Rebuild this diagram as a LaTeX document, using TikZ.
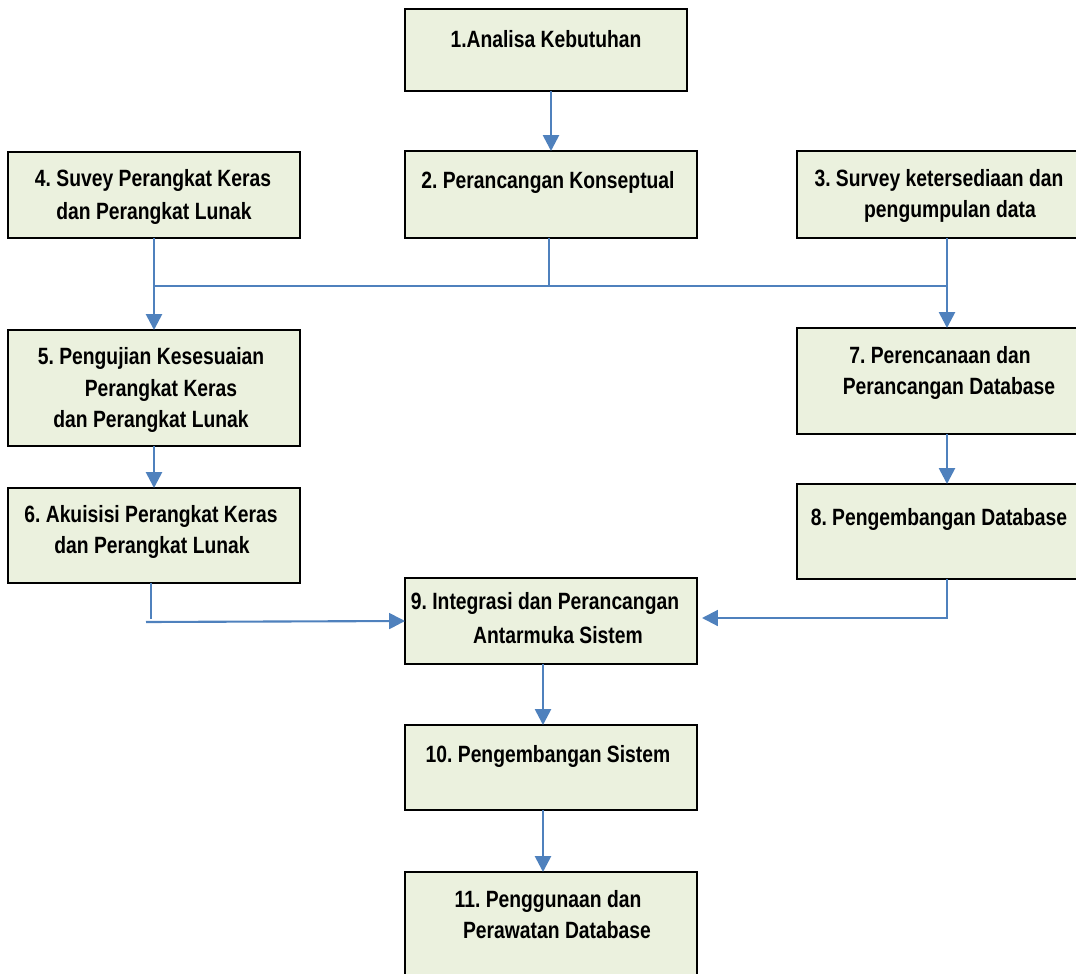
\documentclass[tikz,border=0pt]{standalone}
\usepackage{fontspec}
\setmainfont{Liberation Sans}[FakeStretch=0.82]
\usetikzlibrary{arrows.meta}
\definecolor{boxfill}{RGB}{235,241,222}
\definecolor{flow}{RGB}{79,129,189}
\frenchspacing
\begin{document}
\begin{tikzpicture}[x=0.02cm,y=-0.02cm,
  box/.style={draw=black,line width=1.3pt,fill=boxfill,rectangle,inner sep=0pt,outer sep=0pt},
  txt/.style={anchor=base,inner sep=0pt,font=\fontsize{13.4pt}{16pt}\selectfont\bfseries},
  conn/.style={draw=flow,line width=1.5pt},
  arr/.style={conn,-{Triangle[width=9pt,length=9pt]}},
  hline/.style={draw=flow,line width=1.1pt}]
\useasboundingbox (0,0) rectangle (1076,974);
\clip (0,0) rectangle (1076,974);
% boxes
\node[box,minimum width=5.64cm,minimum height=1.64cm] (b1) at (546,50) {};
\node[box,minimum width=5.84cm,minimum height=1.74cm] (b2) at (551,194.5) {};
\node[box,minimum width=5.84cm,minimum height=1.72cm] (b4) at (154,195) {};
\node[box,minimum width=6.00cm,minimum height=1.74cm] (b3) at (947,194.5) {};
\node[box,minimum width=5.84cm,minimum height=2.32cm] (b5) at (154,388) {};
\node[box,minimum width=6.00cm,minimum height=2.12cm] (b7) at (947,381) {};
\node[box,minimum width=5.84cm,minimum height=1.90cm] (b6) at (154,535.5) {};
\node[box,minimum width=6.00cm,minimum height=1.90cm] (b8) at (947,531.5) {};
\node[box,minimum width=5.84cm,minimum height=1.72cm] (b9) at (551,621) {};
\node[box,minimum width=5.84cm,minimum height=1.70cm] (b10) at (551,767.5) {};
\node[box,minimum width=5.84cm,minimum height=2.36cm] (b11) at (551,931) {};
% texts
\node[txt] (t1) at (546,47) {1.Analisa Kebutuhan};
\node[txt] (t2) at (548,188) {2. Perancangan Konseptual};
\node[txt] (t4a) at (153,186) {4. Suvey Perangkat Keras};
\node[txt] (t4b) at (154,219) {dan Perangkat Lunak};
\node[txt] (t3a) at (939,186) {3. Survey ketersediaan dan};
\node[txt] (t3b) at (950,217) {pengumpulan data};
\node[txt] (t5a) at (151,364) {5. Pengujian Kesesuaian};
\node[txt] (t5b) at (161,396) {Perangkat Keras};
\node[txt] (t5c) at (151,427) {dan Perangkat Lunak};
\node[txt] (t7a) at (940,363) {7. Perencanaan dan};
\node[txt] (t7b) at (949,394) {Perancangan Database};
\node[txt] (t6a) at (151,522) {6. Akuisisi Perangkat Keras};
\node[txt] (t6b) at (152,553) {dan Perangkat Lunak};
\node[txt] (t8) at (939,525) {8. Pengembangan Database};
\node[txt] (t9a) at (545,609) {9. Integrasi dan Perancangan};
\node[txt] (t9b) at (558,643) {Antarmuka Sistem};
\node[txt] (t10) at (548,762) {10. Pengembangan Sistem};
\node[txt] (t11a) at (548,907) {11. Penggunaan dan};
\node[txt] (t11b) at (557,938) {Perawatan Database};
% helper coordinates
\coordinate (hL) at (155,286);
\coordinate (hR) at (947,286);
\coordinate (x549) at (549,0);
\coordinate (x543) at (543,0);
\coordinate (c6) at (151,619);
\coordinate (c6l) at (146,622);
\coordinate (c8) at (702,618);
% connectors
\draw[arr] (b1.south -| b2.north) -- (b2.north);
\draw[conn] (b2.south -| x549) -- (hL -| x549);
\draw[hline] (hL) -- (hR);
\draw[arr] (b4.south) -- (b5.north);
\draw[arr] (b3.south) -- (b7.north);
\draw[arr] (b5.south) -- (b6.north);
\draw[arr] (b7.south) -- (b8.north);
\draw[conn] (b6.south -| c6) -- (c6);
\draw[arr,line width=1.2pt] (c6l) -- (b9.west);
\draw[arr,line width=1.2pt] (b8.south) |- (c8);
\draw[arr] (b9.south -| x543) -- (b10.north -| x543);
\draw[arr] (b10.south -| x543) -- (b11.north -| x543);
\end{tikzpicture}
\end{document}
